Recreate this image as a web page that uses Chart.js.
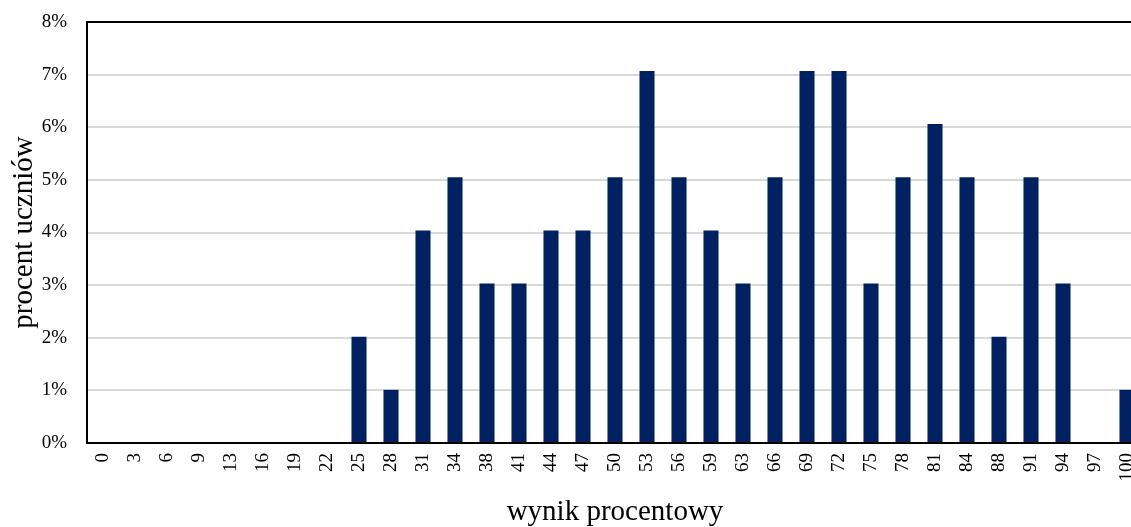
<!DOCTYPE html>
<html>
<head>
<meta charset="utf-8">
<script src="https://cdn.jsdelivr.net/npm/chart.js@4"></script>
<style>
    html, body { margin: 0; padding: 0; background: #fff; overflow: hidden; }
</style>
</head>
<body>
<canvas id="chartWyniki" width="1143" height="527"></canvas>
<script>
const wyniki = ["0", "3", "6", "9", "13", "16", "19", "22", "25", "28", "31", "34", "38", "41", "44", "47", "50",
    "53", "56", "59", "63", "66", "69", "72", "75", "78", "81", "84", "88", "91", "94", "97", "100"];
const procentUczniow = [0, 0, 0, 0, 0, 0, 0, 0, 2.02, 1.01, 4.04, 5.05, 3.03, 3.03, 4.04, 4.04, 5.05,
    7.07, 5.05, 4.04, 3.03, 5.05, 7.07, 7.07, 3.03, 5.05, 6.06, 5.05, 2.02, 5.05, 3.03, 0, 1.01];
const osY = [0, 1, 2, 3, 4, 5, 6, 7, 8];

const serif = "'Liberation Serif', 'Times New Roman', serif";

// gorna krawedz obszaru wykresu
const ramkaGora = {
    id: "ramkaGora",
    afterDraw(chart) {
        const { ctx, chartArea } = chart;
        ctx.save();
        ctx.strokeStyle = "#000";
        ctx.lineWidth = 2;
        ctx.beginPath();
        ctx.moveTo(chartArea.left - 1, chartArea.top);
        ctx.lineTo(chartArea.right, chartArea.top);
        ctx.stroke();
        ctx.restore();
    },
};

const dataWyniki = {
    labels: wyniki,
    datasets: [
        {
            label: "procent uczniów",
            data: procentUczniow,
            backgroundColor: "#002060",
            borderWidth: 0,
            categoryPercentage: 1,
            barPercentage: 0.47,
        },
    ],
};

const configWyniki = {
    type: "bar",
    data: dataWyniki,
    options: {
        responsive: false,
        animation: false,
        layout: { padding: { top: 22, right: 0, left: 0, bottom: 0 } },
        plugins: {
            legend: { display: false },
            tooltip: { enabled: false },
        },
        scales: {
            x: {
                grid: { display: false, drawTicks: false },
                border: { color: "#000", width: 2 },
                ticks: {
                    autoSkip: false,
                    maxRotation: 90,
                    minRotation: 90,
                    padding: 10,
                    color: "#000",
                    font: { family: serif, size: 19 },
                },
                title: {
                    display: true,
                    text: "wynik procentowy",
                    color: "#000",
                    font: { family: serif, size: 29, lineHeight: 1 },
                    padding: { top: 0, bottom: 0 },
                },
                afterFit(scale) {
                    scale.height = 84;
                    scale.paddingLeft = 0;
                    scale.paddingRight = 0;
                },
            },
            y: {
                min: osY[0],
                max: osY[osY.length - 1],
                afterBuildTicks(scale) { scale.ticks = osY.map((v) => ({ value: v })); },
                grid: { color: "#d9d9d9", lineWidth: 2, drawTicks: false },
                border: { color: "#000", width: 2 },
                ticks: {
                    padding: 20,
                    color: "#000",
                    font: { family: serif, size: 19 },
                    callback: (v) => v + "%",
                },
                title: {
                    display: true,
                    text: "procent uczniów",
                    color: "#000",
                    font: { family: serif, size: 29, lineHeight: 1.2 },
                    padding: { top: 7, bottom: 0 },
                },
                afterFit(scale) {
                    scale.width = 87;
                    scale.paddingTop = 0;
                    scale.paddingBottom = 0;
                },
            },
        },
    },
    plugins: [ramkaGora],
};

new Chart(document.getElementById("chartWyniki"), configWyniki);
</script>
</body>
</html>
